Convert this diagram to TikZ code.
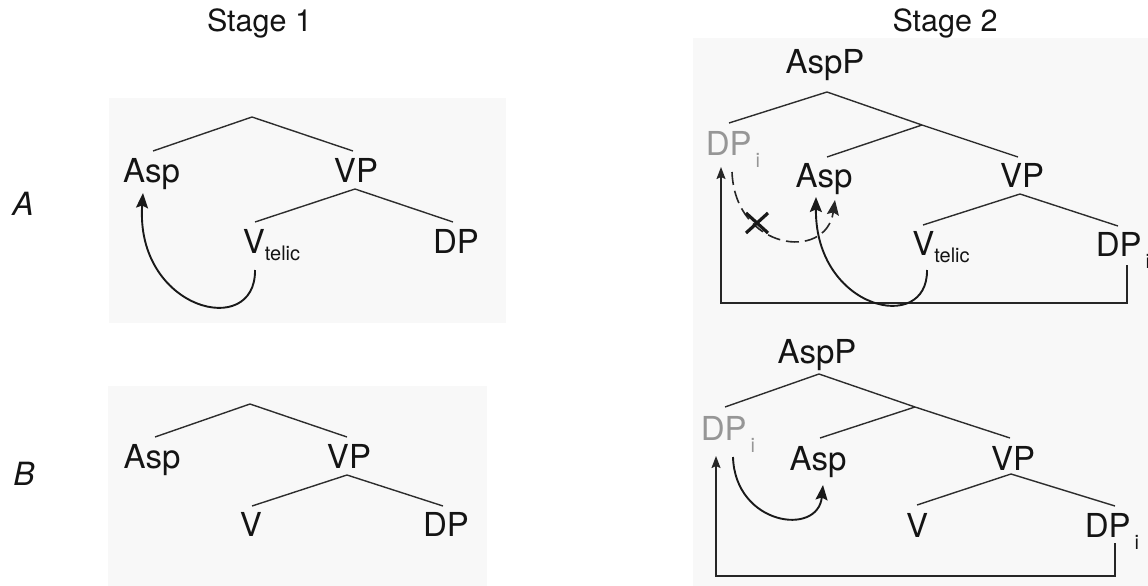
\documentclass[tikz,border=0pt]{standalone}
\usepackage{fontspec}
\setmainfont{TeX Gyre Heros}
\usetikzlibrary{arrows.meta,calc}
\definecolor{panel}{RGB}{248,248,248}
\definecolor{branch}{RGB}{45,45,45}
\definecolor{trace}{RGB}{150,150,150}
% subscripts used in the trees
\newcommand\telicsub{\raisebox{-7pt}{\fontsize{20}{24}\selectfont telic}}
\newcommand\idxsub{\kern4pt\raisebox{-12pt}{\fontsize{20}{24}\selectfont i}}
\begin{document}
\begin{tikzpicture}[x=1pt,y=-1pt,
  lbl/.style={inner sep=0pt, anchor=base, font=\fontsize{33}{40}\selectfont, text=black!92},
  ttl/.style={inner sep=0pt, anchor=base, font=\fontsize{30.5}{36}\selectfont, text=black!92},
  rowlbl/.style={inner sep=0pt, anchor=base, font=\itshape\fontsize{32}{38}\selectfont, text=black!92},
  edge/.style={draw=branch, line width=1.4pt},
  move/.style={draw=black!90, line width=1.9pt, -{Stealth[length=15pt,width=12pt,inset=2.5pt]}},
  link/.style={draw=black!85, line width=1.5pt, -{Stealth[length=12pt,width=9pt,inset=2pt]}},
  blocked/.style={draw=black!85, line width=1.6pt, dash pattern=on 13pt off 6pt, -{Stealth[length=15pt,width=12pt,inset=2.5pt]}}]
\useasboundingbox (0,0) rectangle (1148,586);

% background panels
\fill[panel] (109,98) rectangle (506,323);
\fill[panel] (108,386) rectangle (487,586);
\fill[panel] (693,38) rectangle (1148,586);

% headings and row labels
\node[ttl] (st1) at (259.5,32) {Stage 1};
\node[ttl] (st2) at (945,32) {Stage 2};
\node[rowlbl] (rowA) at (23,215) {A};
\node[rowlbl] (rowB) at (24,485) {B};

% ---------- Stage 1, row A ----------
\node[lbl] (a1asp) at (151.5,182) {Asp};
\node[lbl] (a1vpn) at (356,182) {VP};
\node[lbl] (a1vt) at (271.5,253) {V\telicsub};
\node[lbl] (a1dpn) at (456,253) {DP};
\coordinate (a1r) at (252,117);
\coordinate (a1l) at (153,151);
\coordinate (a1vp) at (353,151);
\coordinate (a1vpb) at (355,189);
\coordinate (a1v) at (255,222);
\coordinate (a1dp) at (453,222);
\draw[edge] (a1l) -- (a1r) -- (a1vp);
\draw[edge] (a1v) -- (a1vpb) -- (a1dp);
\coordinate (a1from) at (255,270);
\coordinate (a1to) at (143,193);
\draw[move] (a1from) .. controls (256,340) and (135,310) .. (a1to);

% ---------- Stage 1, row B ----------
\node[lbl] (b1asp) at (152,468) {Asp};
\node[lbl] (b1vpn) at (349,468) {VP};
\node[lbl] (b1vn) at (251,536) {V};
\node[lbl] (b1dpn) at (446,536) {DP};
\coordinate (b1r) at (250,404);
\coordinate (b1l) at (155,437);
\coordinate (b1vp) at (347,437);
\coordinate (b1vpb) at (347,475);
\coordinate (b1v) at (252,506);
\coordinate (b1dp) at (443,506);
\draw[edge] (b1l) -- (b1r) -- (b1vp);
\draw[edge] (b1v) -- (b1vpb) -- (b1dp);

% ---------- Stage 2, row A ----------
\node[lbl] (a2top) at (825,74) {AspP};
\node[lbl, text=trace] (a2spec) at (733,155) {DP\idxsub};
\node[lbl] (a2asp) at (824,187) {Asp};
\node[lbl] (a2vpn) at (1022,187) {VP};
\node[lbl] (a2vt) at (941,255) {V\telicsub};
\node[lbl] (a2obj) at (1123,256) {DP\idxsub};
\coordinate (a2r) at (827,92);
\coordinate (a2l) at (729,123);
\coordinate (a2m) at (922,125);
\coordinate (a2vp) at (1018,157);
\coordinate (a2a) at (827,157);
\coordinate (a2vpb) at (1020,194);
\coordinate (a2v) at (923,225);
\coordinate (a2dp) at (1118,226);
\draw[edge] (a2l) -- (a2r) -- (a2m) -- (a2vp);
\draw[edge] (a2m) -- (a2a);
\draw[edge] (a2v) -- (a2vpb) -- (a2dp);
% object raising to the specifier
\coordinate (a2o1) at (1127,265);
\coordinate (a2s1) at (721,167);
\draw[link] (a2o1) -- (1127,303) -- (721,303) -- (a2s1);
% blocked movement of the specifier
\coordinate (a2s2) at (732,172);
\coordinate (a2t2) at (835,200);
\draw[blocked] (a2s2) .. controls (735,250) and (826,262) .. (a2t2);
\coordinate (a2x) at (757,223);
\draw[line width=3.2pt, black!90] ($(a2x)+(-11,-10)$) -- ($(a2x)+(11,10)$)
  ($(a2x)+(-11,10)$) -- ($(a2x)+(11,-10)$);
% verb movement to Asp
\coordinate (a2v1) at (927,270);
\coordinate (a2t1) at (816,197);
\draw[move] (a2v1) .. controls (928,335) and (815,310) .. (a2t1);

% ---------- Stage 2, row B ----------
\node[lbl] (b2top) at (817,363) {AspP};
\node[lbl, text=trace] (b2spec) at (728,440) {DP\idxsub};
\node[lbl] (b2asp) at (818,470) {Asp};
\node[lbl] (b2vpn) at (1013,470) {VP};
\node[lbl] (b2vn) at (917,537) {V};
\node[lbl] (b2obj) at (1112,537) {DP\idxsub};
\coordinate (b2r) at (819,374);
\coordinate (b2l) at (725,407);
\coordinate (b2m) at (915,407);
\coordinate (b2vp) at (1010,438);
\coordinate (b2a) at (820,438);
\coordinate (b2vpb) at (1011,474);
\coordinate (b2v) at (917,505);
\coordinate (b2dp) at (1115,506);
\draw[edge] (b2l) -- (b2r) -- (b2m) -- (b2vp);
\draw[edge] (b2m) -- (b2a);
\draw[edge] (b2v) -- (b2vpb) -- (b2dp);
\coordinate (b2o1) at (1115,543);
\coordinate (b2s1) at (716,456);
\draw[link] (b2o1) -- (1115,576) -- (716,576) -- (b2s1);
\coordinate (b2s2) at (733,457);
\coordinate (b2t2) at (823,485);
\draw[move] (b2s2) .. controls (735,525) and (818,537) .. (b2t2);
\end{tikzpicture}
\end{document}
